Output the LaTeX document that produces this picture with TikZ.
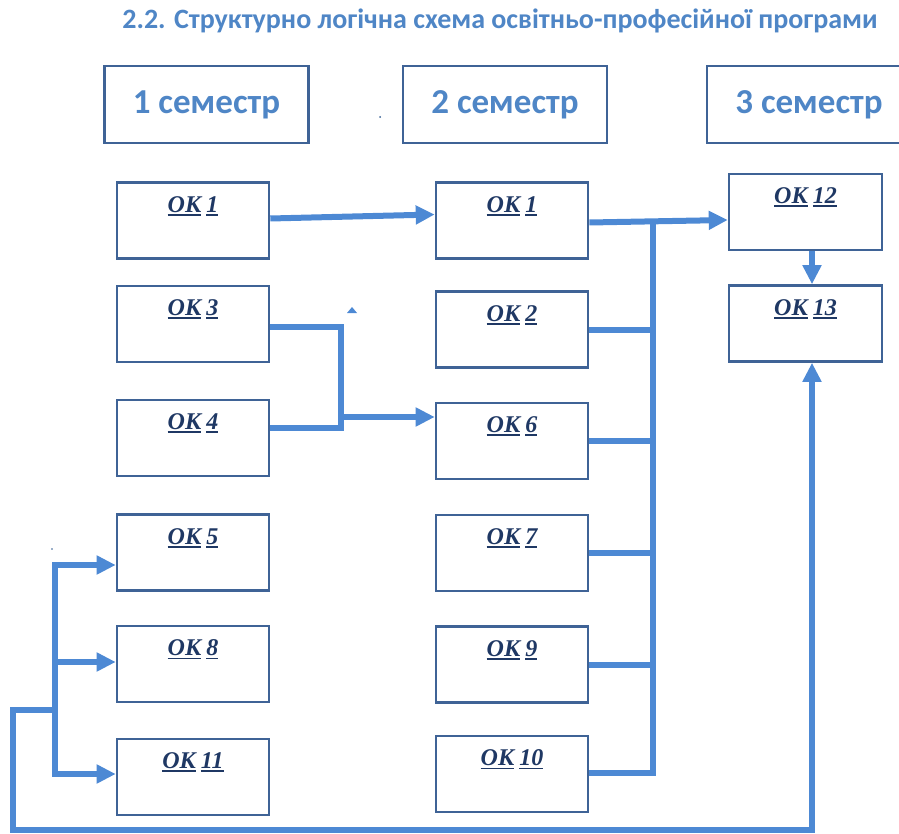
\documentclass[tikz,border=0pt]{standalone}
\usepackage{fontspec}
\setmainfont{Liberation Serif}
\newfontfamily\headfont{Carlito}
\newfontfamily\labfont{Liberation Serif}
\usetikzlibrary{arrows.meta,calc}
\definecolor{linec}{HTML}{4D89D4}
\definecolor{boxc}{HTML}{3F6396}
\definecolor{headc}{HTML}{4F86C6}
\definecolor{labc}{HTML}{1F3864}
\newcommand{\uln}[1]{\setbox0\hbox{#1}\rlap{\rule[-3.4pt]{\wd0}{1.7pt}}\box0}
\newcommand{\okl}[1]{\uln{ОК}\hspace{5pt}\uln{#1}}
\begin{document}
\begin{tikzpicture}[x=1pt,y=-1pt,
  okbox/.style={draw=boxc, line width=2.6pt, minimum width=152pt, minimum height=76pt, inner sep=0pt, fill=white},
  oklab/.style={font=\labfont\fontsize{24}{24}\selectfont\bfseries\itshape, text=labc, anchor=north, inner sep=0pt, yshift=-15pt},
  headbox/.style={draw=boxc, line width=2.4pt, minimum width=204pt, minimum height=77pt, inner sep=0pt, text=headc, font=\headfont\fontsize{35}{35}\selectfont\bfseries},
  conn/.style={draw=linec, line width=6pt, line join=miter},
  arr/.style={conn, -{Triangle[length=19pt,width=18pt]}}
]
\useasboundingbox (0,0) rectangle (899,834);

% title
\node[text=headc, font=\headfont\fontsize{28}{28}\selectfont\bfseries] (title) at (500,21)
  {2.2. Структурно логічна схема освітньо-професійної програми};

% semester headers
\node[headbox] (h1) at (206.5,104.5) {1 семестр};
\node[headbox] (h2) at (505,104.5) {2 семестр};
\node[headbox] (h3) at (809,104.5) {3 семестр};

% column 1
\node[okbox, label={[oklab]north:\okl{1}}]  (c1a) at (193,220.5) {};
\node[okbox, label={[oklab]north:\okl{3}}]  (c1b) at (193,324) {};
\node[okbox, label={[oklab]north:\okl{4}}]  (c1c) at (193,438) {};
\node[okbox, label={[oklab]north:\okl{5}}]  (c1d) at (193,552.5) {};
\node[okbox, label={[oklab]north:\okl{8}}]  (c1e) at (193,664) {};
\node[okbox, label={[oklab]north:\okl{11}}] (c1f) at (193,777) {};

% column 2
\node[okbox, label={[oklab]north:\okl{1}}]  (c2a) at (512,220.5) {};
\node[okbox, label={[oklab]north:\okl{2}}]  (c2b) at (512,329.5) {};
\node[okbox, label={[oklab]north:\okl{6}}]  (c2c) at (512,441) {};
\node[okbox, label={[oklab]north:\okl{7}}]  (c2d) at (512,553) {};
\node[okbox, label={[oklab]north:\okl{9}}]  (c2e) at (512,664.5) {};
\node[okbox, label={[oklab]north:\okl{10}}] (c2f) at (512,774) {};

% column 3
\node[okbox, minimum width=153pt, label={[oklab]north:\okl{12}}] (c3a) at (805.5,212) {};
\node[okbox, minimum width=153pt, label={[oklab]north:\okl{13}}] (c3b) at (805.5,323.5) {};

% OK1 -> OK1
\draw[arr] ($(c1a.east)+(0,-2)$) -- ($(c2a.west)+(0,-6)$);

% bus of column 2
\coordinate (bt) at (653,219);
\coordinate (bb) at (653,776);
\draw[conn] (bt) -- (bb);
\draw[arr] ($(c2a.east)+(0,2)$) -- ($(c3a.west)+(0,8)$);
\draw[conn] (c2b.east) -- (c2b.east -| bt);
\draw[conn] (c2c.east) -- (c2c.east -| bt);
\draw[conn] (c2d.east) -- (c2d.east -| bt);
\draw[conn] (c2e.east) -- (c2e.east -| bt);
\draw[conn] ($(c2f.east)+(0,-1)$) -- ($(c2f.east -| bt)+(0,-1)$);

% OK3, OK4 -> OK6
\coordinate (j1) at (341,327);
\coordinate (j2) at (341,428);
\coordinate (j3) at (341,417);
\draw[conn] (c1b.east |- j1) -- (j1) -- (j2) -- (c1c.east |- j2);
\draw[arr] (j3) -- (c2c.west |- j3);
\fill[linec] (347,313) -- (357,313) -- (352,307) -- cycle;

% left bus -> OK5, OK8, OK11
\coordinate (lb1) at (55,565);
\coordinate (lb2) at (55,662);
\coordinate (lb3) at (55,774);
\draw[conn] (55,562) -- (55,777);
\draw[arr] (lb1) -- (c1d.west |- lb1);
\draw[arr] (lb2) -- (c1e.west |- lb2);
\draw[arr] (lb3) -- (c1f.west |- lb3);

% loop to OK13
\coordinate (l0) at (55,710);
\coordinate (l1) at (13,710);
\coordinate (l2) at (13,830);
\coordinate (l3) at (812,830);
\draw[arr] (l0) -- (l1) -- (l2) -- (l3) -- (l3 |- c3b.south);

% OK12 -> OK13
\draw[arr] (c3a.south -| l3) -- (c3b.north -| l3);

% specks
\fill[linec!70!black] (380,117) circle (1pt);
\fill[linec!70!black] (52,549) circle (0.8pt);
\end{tikzpicture}
\end{document}
